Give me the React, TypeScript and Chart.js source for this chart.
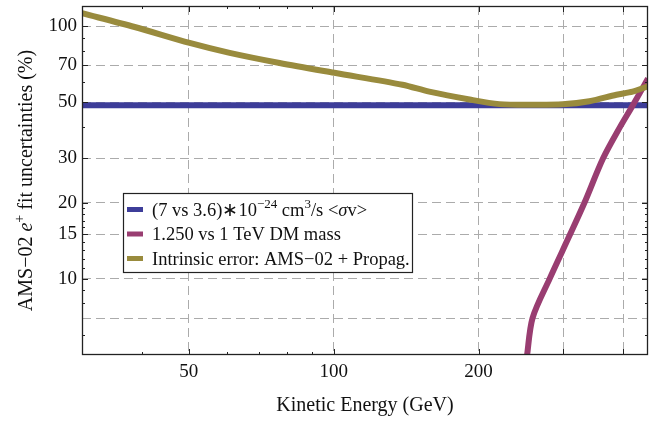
import React, { useEffect, useRef } from "react";
import { Chart, registerables } from "chart.js";
Chart.register(...registerables);

// ---- data ----
const crossEnergy = [30, 450];
const crossValues = [48.6, 48.6];

const massEnergy = [252, 259, 281, 310, 332, 363, 394, 418, 450];
const massValues = [4.9, 7, 10, 15, 20, 30, 40, 48.4, 62];

const intrinsicEnergy = [30, 38.6, 50.2, 60.8, 77.2, 100.3, 139, 158, 191.6, 221, 259, 299, 340, 387, 418, 450];
const intrinsicValues = [112.4, 99.1, 85.7, 78.3, 71.4, 65.3, 58.6, 55.0, 51.2, 49.1, 48.8, 49.0, 50.4, 53.5, 55.0, 57.8];

const xGridValues = [50, 100, 200, 300, 400];
const xLabelValues = [50, 100, 200];
const xMinorTicks = [40, 60, 70, 80, 90];
const yGridValues = [7, 10, 15, 20, 30, 50, 70, 100];
const yLabelValues = [10, 15, 20, 30, 50, 70, 100];
const yMinorTicks = [6, 8, 9, 11, 12, 13, 14, 16, 17, 18, 19, 40, 60, 80, 90];

const seriesLabels = ["cross", "mass", "intrinsic"];
const seriesColors = ["#3d3d99", "#993d71", "#998b3d"];

const FAM = '"Liberation Serif", "Times New Roman", serif';

type Run = { t: string; it?: boolean; sup?: boolean };

const yTitleRuns: Run[] = [
  { t: "AMS\u221202 " },
  { t: "e", it: true },
  { t: "+", sup: true },
  { t: " fit uncertainties (%)" },
];

const legendRuns: Run[][] = [
  [
    { t: "(7 vs 3.6)\u221710" },
    { t: "\u221224", sup: true },
    { t: " cm" },
    { t: "3", sup: true },
    { t: "/s <" },
    { t: "\u03c3", it: true },
    { t: "v>" },
  ],
  [{ t: "1.250 vs 1 TeV DM mass" }],
  [{ t: "Intrinsic error: AMS\u221202 + Propag." }],
];

function drawRich(ctx: CanvasRenderingContext2D, runs: Run[], x: number, y: number, size: number, align: "left" | "center") {
  const fontFor = (r: Run) => `${r.it ? "italic " : ""}${r.sup ? Math.round(size * 0.7) : size}px ${FAM}`;
  let total = 0;
  for (const r of runs) {
    ctx.font = fontFor(r);
    total += ctx.measureText(r.t).width;
  }
  let cx = align === "center" ? x - total / 2 : x;
  ctx.textAlign = "left";
  ctx.textBaseline = "alphabetic";
  for (const r of runs) {
    ctx.font = fontFor(r);
    ctx.fillText(r.t, cx, r.sup ? y - size * 0.4 : y);
    cx += ctx.measureText(r.t).width;
  }
}

const decorPlugin = {
  id: "decor",
  afterDraw(chart: any) {
    const { ctx, chartArea: a, scales } = chart;
    const xs = scales.x;
    const ys = scales.y;
    ctx.save();
    ctx.strokeStyle = "#222";
    ctx.lineWidth = 1;
    ctx.setLineDash([]);
    ctx.beginPath();
    const xt = (v: number, len: number) => {
      const px = Math.round(xs.getPixelForValue(v)) + 0.5;
      ctx.moveTo(px, a.bottom);
      ctx.lineTo(px, a.bottom - len);
      ctx.moveTo(px, a.top);
      ctx.lineTo(px, a.top + len);
    };
    const yt = (v: number, len: number) => {
      const py = Math.round(ys.getPixelForValue(v)) + 0.5;
      ctx.moveTo(a.left, py);
      ctx.lineTo(a.left + len, py);
      ctx.moveTo(a.right, py);
      ctx.lineTo(a.right - len, py);
    };
    xGridValues.forEach((v) => xt(v, 6));
    xMinorTicks.forEach((v) => xt(v, 3));
    yLabelValues.forEach((v) => yt(v, 6));
    yMinorTicks.forEach((v) => yt(v, 3));
    ctx.stroke();

    ctx.lineWidth = 1.3;
    ctx.strokeStyle = "#222";
    ctx.strokeRect(a.left + 0.5, a.top + 0.5, a.right - a.left - 1, a.bottom - a.top - 1);

    // legend
    const lx = a.left + 41;
    const ly = a.top + 187;
    const lw = 289;
    const lh = 79;
    ctx.fillStyle = "#fff";
    ctx.fillRect(lx, ly, lw, lh);
    ctx.lineWidth = 1.2;
    ctx.strokeStyle = "#222";
    ctx.strokeRect(lx + 0.5, ly + 0.5, lw, lh);
    legendRuns.forEach((runs, i) => {
      const cy = ly + 16.5 + i * 24.5;
      ctx.strokeStyle = seriesColors[i];
      ctx.lineWidth = 5;
      ctx.beginPath();
      ctx.moveTo(lx + 4, cy);
      ctx.lineTo(lx + 20, cy);
      ctx.stroke();
      ctx.fillStyle = "#111";
      drawRich(ctx, runs, lx + 29, cy + 6, 18.5, "left");
    });

    // y title
    ctx.save();
    ctx.translate(25, (a.top + a.bottom) / 2);
    ctx.rotate(-Math.PI / 2);
    ctx.fillStyle = "#111";
    drawRich(ctx, yTitleRuns, 0, 7, 20, "center");
    ctx.restore();

    ctx.restore();
  },
};

export default function App() {
  const ref = useRef<HTMLCanvasElement | null>(null);
  useEffect(() => {
    if (!ref.current) return;
    const mk = (xsArr: number[], ysArr: number[]) => xsArr.map((x, i) => ({ x, y: ysArr[i] }));
    const data = [mk(crossEnergy, crossValues), mk(massEnergy, massValues), mk(intrinsicEnergy, intrinsicValues)];
    const orders = [2, 1, 0];
    const chart = new Chart(ref.current, {
      type: "line",
      data: {
        datasets: data.map((d, i) => ({
          label: seriesLabels[i],
          data: d,
          borderColor: seriesColors[i],
          backgroundColor: seriesColors[i],
          borderWidth: 6,
          pointRadius: 0,
          fill: false,
          tension: 0.3,
          clip: 0,
          order: orders[i],
        })),
      },
      options: {
        animation: false,
        responsive: true,
        maintainAspectRatio: false,
        layout: { padding: { top: 6, right: 17, left: 0, bottom: 0 } },
        plugins: { legend: { display: false }, tooltip: { enabled: false }, title: { display: false } },
        scales: {
          x: {
            type: "logarithmic",
            min: 30,
            max: 450,
            afterBuildTicks: (s: any) => {
              s.ticks = xGridValues.map((v) => ({ value: v }));
            },
            afterFit: (s: any) => {
              s.height = 66;
              s.paddingLeft = 0;
              s.paddingRight = 0;
            },
            ticks: {
              autoSkip: false,
              maxRotation: 0,
              padding: 6,
              color: "#111",
              font: { family: FAM, size: 19 },
              callback: (v: any) => (xLabelValues.includes(Number(v)) ? String(v) : ""),
            },
            grid: { color: "#ababab", lineWidth: 1, drawTicks: false, borderDash: [9, 5] },
            border: { display: false, dash: [9, 5] },
            title: {
              display: true,
              text: "Kinetic Energy (GeV)",
              color: "#111",
              font: { family: FAM, size: 20 },
              padding: { top: 0, bottom: 3 },
            },
          },
          y: {
            type: "logarithmic",
            min: 5,
            max: 120,
            afterBuildTicks: (s: any) => {
              s.ticks = yGridValues.map((v) => ({ value: v }));
            },
            afterFit: (s: any) => {
              s.width = 82;
              s.paddingTop = 0;
              s.paddingBottom = 0;
            },
            ticks: {
              autoSkip: false,
              padding: 5,
              color: "#111",
              font: { family: FAM, size: 19 },
              callback: (v: any) => (yLabelValues.includes(Number(v)) ? String(v) : ""),
            },
            grid: { color: "#ababab", lineWidth: 1, drawTicks: false, borderDash: [9, 5] },
            border: { display: false, dash: [9, 5] },
          },
        },
      },
      plugins: [decorPlugin],
    } as any);
    return () => chart.destroy();
  }, []);
  return (
    <div style={{ position: "fixed", left: 0, top: 0, width: 665, height: 421, background: "#fff" }}>
      <canvas ref={ref} style={{ display: "block" }} />
    </div>
  );
}
